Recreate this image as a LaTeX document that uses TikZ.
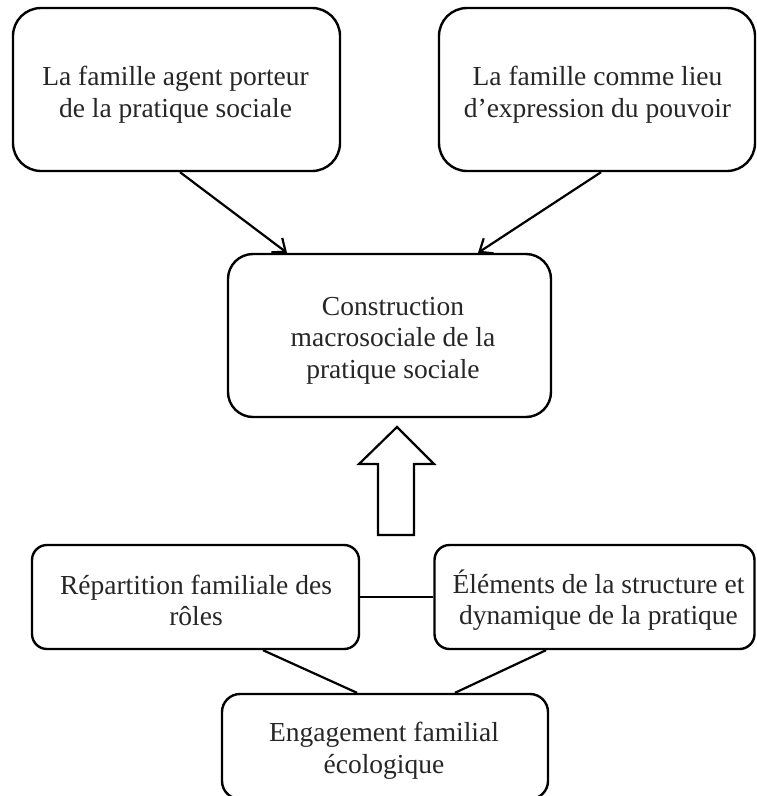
\documentclass[tikz,border=0pt]{standalone}
\usepackage{fontspec}
\setmainfont{Liberation Serif}
\usetikzlibrary{arrows.meta}
\begin{document}
\begin{tikzpicture}[x=1pt,y=-1pt,
  box/.style={draw, line width=2.4pt, rounded corners=#1, inner sep=0pt, fill=white},
  txt/.style={font=\fontsize{27.5}{31.5}\selectfont, align=center, inner sep=0pt, anchor=base, text=black!85},
  arr/.style={line width=2.2pt, -{Straight Barb[length=11pt,width=18pt,line width=2.2pt]}},
  lnk/.style={line width=2.2pt}]
\useasboundingbox (0,0) rectangle (756,796);
\clip (0,0) rectangle (756,796);
\fill[white] (0,0) rectangle (756,796);
% boxes
\node[box=28, minimum width=327pt, minimum height=163pt] (b1) at (176.5,89.5) {};
\node[box=28, minimum width=316pt, minimum height=163pt] (b2) at (597,89.5) {};
\node[box=25, minimum width=323pt, minimum height=163pt] (c) at (389.5,335.5) {};
\node[box=15, minimum width=327pt, minimum height=104pt] (bl) at (195.5,597) {};
\node[box=15, minimum width=320pt, minimum height=104pt] (br) at (594.5,597) {};
\node[box=18, minimum width=326pt, minimum height=105pt] (bb) at (385,746.5) {};
% texts (base anchor = baseline of last line)
\node[txt] (t1) at (175.5,117) {La famille agent porteur\\de la pratique sociale};
\node[txt] (t2) at (597.5,117) {La famille comme lieu\\d’expression du pouvoir};
\node[txt] (t3) at (393,378) {Construction\\macrosociale de la\\pratique sociale};
\node[txt] (t4) at (196,625.5) {Répartition familiale des\\rôles};
\node[txt] (t5) at (598.5,624.5) {Éléments de la structure et\\dynamique de la pratique};
\node[txt] (t6) at (384,773) {Engagement familial\\écologique};
% arrows
\draw[arr] ([xshift=3.5pt]b1.south) -- ([xshift=-102.5pt]c.north);
\draw[arr] ([xshift=4pt]b2.south) -- ([xshift=88.5pt]c.north);
% block arrow
\coordinate (tip) at (397,427);
\draw[line width=2.2pt, line join=miter] (tip) -- (434,464) -- (414,464) -- (414,535) -- (378,535) -- (378,464) -- (359,464) -- cycle;
% links
\draw[lnk] (bl.east) -- (br.west);
\draw[lnk] ([xshift=67.5pt]bl.south) -- ([xshift=-28pt]bb.north);
\draw[lnk] ([xshift=-48.5pt]br.south) -- ([xshift=70pt]bb.north);
\end{tikzpicture}
\end{document}
